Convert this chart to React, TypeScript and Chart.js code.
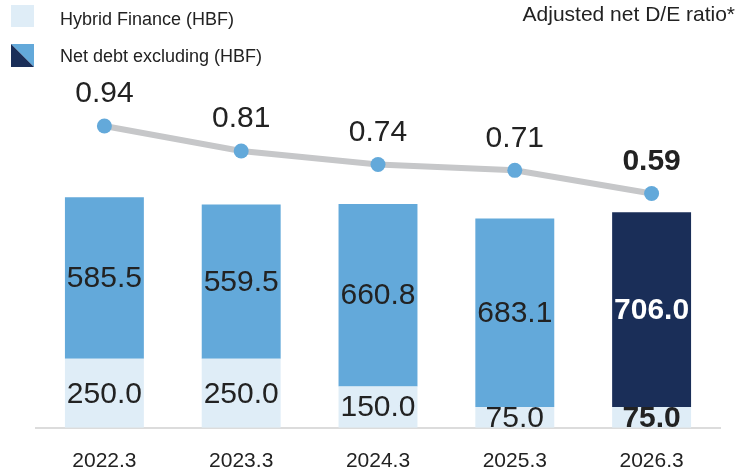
import React, { useEffect, useRef } from "react";
import { Chart, registerables } from "chart.js";

Chart.register(...registerables);

const categories = ["2022.3", "2023.3", "2024.3", "2025.3", "2026.3"];
const hybridFinance = [250.0, 250.0, 150.0, 75.0, 75.0];
const netDebtExHBF = [585.5, 559.5, 660.8, 683.1, 706.0];
const deRatio = [0.94, 0.81, 0.74, 0.71, 0.59];
const legendLabels = ["Hybrid Finance (HBF)", "Net debt excluding (HBF)"];
const ratioTitle = "Adjusted net D/E ratio*";

const LIGHT = "#DFEDF7";
const MID = "#63A9DA";
const NAVY = "#1A2E58";
const TEXT = "#222222";
const FONT = "'Liberation Sans', Arial, sans-serif";

const labelPlugin = {
  id: "valueLabels",
  afterDatasetsDraw(chart: any) {
    const ctx = chart.ctx;
    ctx.save();
    ctx.textAlign = "center";
    ctx.textBaseline = "middle";
    chart.data.datasets.forEach((ds: any, i: number) => {
      const meta = chart.getDatasetMeta(i);
      if (meta.hidden) return;
      const last = meta.data.length - 1;
      meta.data.forEach((el: any, j: number) => {
        const bold = j === last;
        if (meta.type === "bar") {
          const p = el.getProps(["x", "y", "base"], true);
          const cy = (p.y + p.base) / 2 + 1;
          ctx.font = `${bold ? "bold " : ""}30px ${FONT}`;
          ctx.fillStyle = bold && i === 1 ? "#FFFFFF" : TEXT;
          ctx.fillText(Number(ds.data[j]).toFixed(1), p.x, cy);
        } else {
          const p = el.getProps(["x", "y"], true);
          ctx.font = `${bold ? "bold " : ""}30px ${FONT}`;
          ctx.fillStyle = TEXT;
          ctx.fillText(Number(ds.data[j]).toFixed(2), p.x, p.y - 32);
        }
      });
    });
    ctx.restore();
  },
};

const legendPlugin = {
  id: "customLegend",
  afterDraw(chart: any) {
    const ctx = chart.ctx;
    ctx.save();
    ctx.fillStyle = LIGHT;
    ctx.fillRect(11, 5, 23, 22);
    ctx.fillStyle = MID;
    ctx.beginPath();
    ctx.moveTo(11, 44);
    ctx.lineTo(34, 44);
    ctx.lineTo(34, 67);
    ctx.closePath();
    ctx.fill();
    ctx.fillStyle = NAVY;
    ctx.beginPath();
    ctx.moveTo(11, 44);
    ctx.lineTo(11, 67);
    ctx.lineTo(34, 67);
    ctx.closePath();
    ctx.fill();
    ctx.fillStyle = TEXT;
    ctx.font = `18px ${FONT}`;
    ctx.textAlign = "left";
    ctx.textBaseline = "middle";
    ctx.fillText(legendLabels[0], 60, 20);
    ctx.fillText(legendLabels[1], 60, 57);
    ctx.font = `21px ${FONT}`;
    ctx.textAlign = "right";
    ctx.fillText(ratioTitle, 735, 15);
    ctx.restore();
  },
};

export default function App() {
  const ref = useRef<HTMLCanvasElement | null>(null);
  useEffect(() => {
    document.body.style.margin = "0";
    if (!ref.current) return;
    const chart = new Chart(ref.current, {
      type: "bar",
      data: {
        labels: categories,
        datasets: [
          {
            type: "bar",
            label: legendLabels[0],
            data: hybridFinance,
            backgroundColor: LIGHT,
            stack: "s",
            order: 1,
            barPercentage: 0.577,
            categoryPercentage: 1,
            yAxisID: "y",
            xAxisID: "x",
          },
          {
            type: "bar",
            label: legendLabels[1],
            data: netDebtExHBF,
            backgroundColor: [MID, MID, MID, MID, NAVY],
            stack: "s",
            order: 1,
            barPercentage: 0.577,
            categoryPercentage: 1,
            yAxisID: "y",
            xAxisID: "x",
          },
          {
            type: "line",
            label: ratioTitle,
            data: deRatio,
            borderColor: "#C6C7C9",
            borderWidth: 6,
            pointRadius: 7.5,
            pointBackgroundColor: MID,
            pointBorderWidth: 0,
            pointHoverRadius: 7.5,
            tension: 0,
            order: 0,
            yAxisID: "y2",
            xAxisID: "x",
          } as any,
        ],
      },
      options: {
        responsive: false,
        animation: false,
        layout: { padding: { left: 36, right: 21, top: 0, bottom: -22 } },
        plugins: {
          legend: { display: false },
          title: { display: false },
          tooltip: { enabled: false },
        },
        scales: {
          x: {
            type: "category",
            stacked: true,
            offset: true,
            grid: { display: false, drawTicks: false },
            border: { display: true, color: "#DCDCDC", width: 2 },
            ticks: {
              color: TEXT,
              font: { family: FONT, size: 21 },
              padding: 21,
            },
          },
          y: {
            display: false,
            stacked: true,
            min: 0,
            max: 1523,
          },
          y2: {
            display: false,
            stacked: false,
            min: -0.6267,
            max: 1.5553,
          },
        },
      },
      plugins: [labelPlugin, legendPlugin],
    } as any);
    return () => chart.destroy();
  }, []);
  return (
    <div style={{ width: 741, height: 473 }}>
      <canvas ref={ref} width={741} height={473} style={{ display: "block" }} />
    </div>
  );
}
